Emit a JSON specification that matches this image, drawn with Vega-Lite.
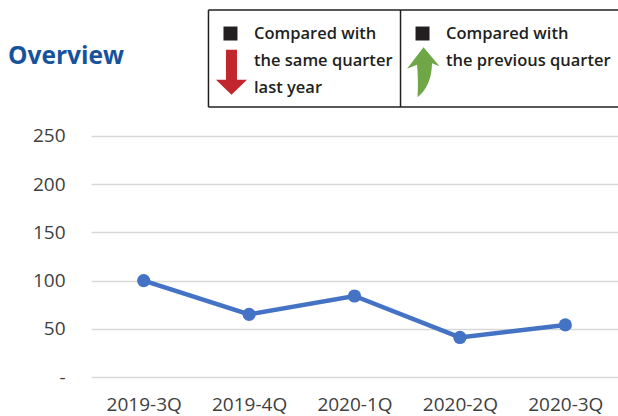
{
  "$schema": "https://vega.github.io/schema/vega-lite/v6.json",
  "width": 527,
  "height": 377,
  "autosize": {"type": "none"},
  "padding": {"left": 91, "top": 0, "right": 0, "bottom": 39},
  "background": "white",
  "title": {
    "text": "Overview",
    "anchor": "start",
    "frame": "group",
    "orient": "top",
    "offset": -88,
    "dx": -83,
    "baseline": "alphabetic",
    "font": "Open Sans",
    "fontSize": 24.5,
    "fontWeight": "bold",
    "color": "#17529c"
  },
  "config": {"view": {"stroke": null}, "font": "Open Sans"},
  "datasets": {
    "quarters": [
      {"quarter": "2019-3Q", "value": 100},
      {"quarter": "2019-4Q", "value": 65},
      {"quarter": "2020-1Q", "value": 84},
      {"quarter": "2020-2Q", "value": 41},
      {"quarter": "2020-3Q", "value": 54}
    ],
    "entries": [{"entry": "yoy"}, {"entry": "qoq"}],
    "legendText": [
      {"entry": "yoy", "line": 1, "text": "Compared with"},
      {"entry": "yoy", "line": 2, "text": "the same quarter"},
      {"entry": "yoy", "line": 3, "text": "last year"},
      {"entry": "qoq", "line": 1, "text": "Compared with"},
      {"entry": "qoq", "line": 2, "text": "the previous quarter"}
    ],
    "arrows": [
      {"entry": "yoy", "direction": "down"},
      {"entry": "qoq", "direction": "up"}
    ],
    "single": [{}]
  },
  "layer": [
    {
      "data": {"name": "quarters"},
      "encoding": {
        "x": {
          "field": "quarter", "type": "ordinal", "sort": null,
          "scale": {"type": "point", "padding": 0.5},
          "axis": {"title": null, "labelFontSize": 19, "labelColor": "#404040", "labelPadding": 18, "ticks": false, "domain": false, "grid": false, "labelAngle": 0, "labelFont": "Open Sans"}
        },
        "y": {
          "field": "value", "type": "quantitative",
          "scale": {"domain": [0, 391], "nice": false, "zero": true},
          "axis": {"title": null, "values": [0, 50, 100, 150, 200, 250], "labelExpr": "datum.value === 0 ? '-' : datum.label", "labelFontSize": 19, "labelColor": "#404040", "labelPadding": 26, "ticks": false, "domain": false, "grid": true, "gridColor": "#d9d9d9", "gridWidth": 1.5, "labelFont": "Open Sans"}
        }
      },
      "layer": [
        {"mark": {"type": "line", "color": "#4472c4", "strokeWidth": 4.5}},
        {"mark": {"type": "point", "filled": true, "opacity": 1, "size": 175, "color": "#4472c4"}}
      ]
    },
    {
      "layer": [
        {
          "data": {"name": "single"},
          "mark": {"type": "rule", "stroke": "#231f20", "strokeWidth": 1.5, "xOffset": -22, "yOffset": -24.3},
          "encoding": {
            "x": {"datum": "yoy", "type": "nominal", "scale": {"type": "point", "domain": ["yoy", "qoq"], "padding": 0.872, "align": 0.4164}, "axis": null},
            "x2": {"value": "width"},
            "y": {"datum": 1, "type": "quantitative", "scale": {"domain": [-0.29, 13.88], "reverse": true, "nice": false, "zero": false}, "axis": null}
          }
        },
        {
          "data": {"name": "single"},
          "mark": {"type": "rule", "stroke": "#231f20", "strokeWidth": 1.5, "xOffset": -22, "yOffset": 19.5},
          "encoding": {
            "x": {"datum": "yoy", "type": "nominal", "scale": {"type": "point", "domain": ["yoy", "qoq"], "padding": 0.872, "align": 0.4164}, "axis": null},
            "x2": {"value": "width"},
            "y": {"datum": 3, "type": "quantitative", "scale": {"domain": [-0.29, 13.88], "reverse": true, "nice": false, "zero": false}, "axis": null}
          }
        },
        {
          "data": {"name": "entries"},
          "mark": {"type": "rule", "stroke": "#231f20", "strokeWidth": 1.5, "xOffset": -22, "yOffset": -24.3, "y2Offset": 19.5},
          "encoding": {
            "x": {"field": "entry", "type": "nominal", "scale": {"type": "point", "domain": ["yoy", "qoq"], "padding": 0.872, "align": 0.4164}, "axis": null},
            "y": {"datum": 1, "type": "quantitative", "scale": {"domain": [-0.29, 13.88], "reverse": true, "nice": false, "zero": false}, "axis": null},
            "y2": {"datum": 3}
          }
        },
        {
          "data": {"name": "entries"},
          "mark": {"type": "point", "shape": "square", "filled": true, "opacity": 1, "size": 196, "color": "#231f20", "yOffset": -0.8},
          "encoding": {
            "x": {"field": "entry", "type": "nominal", "scale": {"type": "point", "domain": ["yoy", "qoq"], "padding": 0.872, "align": 0.4164}, "axis": null},
            "y": {"datum": 1, "type": "quantitative", "scale": {"domain": [-0.29, 13.88], "reverse": true, "nice": false, "zero": false}, "axis": null}
          }
        },
        {
          "data": {"name": "legendText"},
          "mark": {"type": "text", "align": "left", "baseline": "middle", "dx": 23.5, "font": "Open Sans", "fontSize": 16.5, "fontWeight": 600, "color": "#231f20"},
          "encoding": {
            "x": {"field": "entry", "type": "nominal", "scale": {"type": "point", "domain": ["yoy", "qoq"], "padding": 0.872, "align": 0.4164}, "axis": null},
            "y": {"field": "line", "type": "quantitative", "scale": {"domain": [-0.29, 13.88], "reverse": true, "nice": false, "zero": false}, "axis": null},
            "text": {"field": "text"}
          }
        },
        {
          "data": {"name": "arrows"},
          "mark": {"type": "point", "filled": true, "opacity": 1, "size": 2500, "xOffset": 1, "yOffset": 11.3, "strokeWidth": 0},
          "encoding": {
            "x": {"field": "entry", "type": "nominal", "scale": {"type": "point", "domain": ["yoy", "qoq"], "padding": 0.872, "align": 0.4164}, "axis": null},
            "y": {"datum": 2, "type": "quantitative", "scale": {"domain": [-0.29, 13.88], "reverse": true, "nice": false, "zero": false}, "axis": null},
            "shape": {"field": "direction", "type": "nominal", "scale": {"domain": ["down", "up"], "range": ["M-0.22,-0.9L0.22,-0.9L0.22,0.3L0.62,0.3L0,0.9L-0.62,0.3L-0.22,0.3Z", "M0,-1L0.64,-0.24L0.34,-0.36Q0.32,0.55 -0.24,1Q-0.2,0.3 -0.26,-0.3L-0.66,-0.14Z"]}, "legend": null},
            "color": {"field": "direction", "type": "nominal", "scale": {"domain": ["down", "up"], "range": ["#c1272d", "#6fa646"]}, "legend": null}
          }
        }
      ]
    }
  ],
  "resolve": {"scale": {"x": "independent", "y": "independent"}}
}
